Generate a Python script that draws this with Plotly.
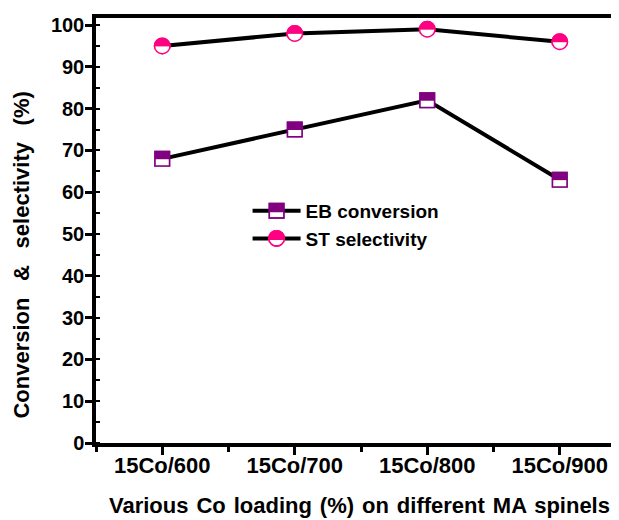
import plotly.graph_objects as go

categories = ["15Co/600", "15Co/700", "15Co/800", "15Co/900"]
eb_conversion = [68, 75, 82, 63]
st_selectivity = [95, 98, 99, 96]
y_ticks = [0, 10, 20, 30, 40, 50, 60, 70, 80, 90, 100]

x_pos = list(range(len(categories)))

PURPLE = "#800080"
PINK = "#FF0080"
FONT = "Liberation Sans, Arial, sans-serif"

SQ = 14.5   # square marker size
CI = 15.5   # circle marker size


def half_filled(fig, y, name, symbol, size, color):
    # full coloured marker on the black line (also the legend entry)
    fig.add_trace(go.Scatter(
        x=x_pos, y=y, mode="lines+markers", name=name,
        line=dict(color="black", width=4),
        marker=dict(symbol=symbol, size=size, color=color,
                    line=dict(color=color, width=1.5)),
        legend="legend",
    ))
    # lower half blanked in white
    fig.add_trace(go.Scatter(
        x=x_pos, y=y, mode="markers", name=name, showlegend=False,
        marker=dict(symbol="line-ew", size=size / 1.4, angle=0,
                    standoff=size / 4 + 0.4,
                    line=dict(color="white", width=size / 2)),
    ))
    # outline redrawn
    fig.add_trace(go.Scatter(
        x=x_pos, y=y, mode="markers", name=name, showlegend=False,
        marker=dict(symbol=symbol + "-open", size=size, color=color,
                    line=dict(width=1.5)),
    ))


def legend_overlay(fig, name, symbol, size, color):
    # legend-only copy of the white lower half
    fig.add_trace(go.Scatter(
        x=[None], y=[None], mode="markers", name=name,
        marker=dict(symbol="line-ew", size=size / 1.4, angle=180,
                    standoff=4, line=dict(color="white", width=5)),
        legend="legend2",
    ))


def legend_outline(fig, name, symbol, size, color):
    # legend-only copy of the outline
    fig.add_trace(go.Scatter(
        x=[None], y=[None], mode="markers", name=name,
        marker=dict(symbol=symbol + "-open", size=size, color=color,
                    line=dict(width=1.5)),
        legend="legend3",
    ))


fig = go.Figure()
half_filled(fig, eb_conversion, "EB conversion", "square", SQ, PURPLE)
half_filled(fig, st_selectivity, "ST selectivity", "circle", CI, PINK)
legend_overlay(fig, "EB conversion", "square", SQ, PURPLE)
legend_overlay(fig, "ST selectivity", "circle", CI, PINK)
legend_outline(fig, "EB conversion", "square", SQ, PURPLE)
legend_outline(fig, "ST selectivity", "circle", CI, PINK)

legend_common = dict(x=0.286, y=0.591, xanchor="left", yanchor="top",
                     bgcolor="rgba(0,0,0,0)", borderwidth=0, itemwidth=48,
                     traceorder="normal")

title_font = dict(family=FONT, size=22, color="black", weight="bold")
SP_X = " \u200a"
SP_Y = " \u00a0\u2009"

fig.update_layout(
    width=619, height=520,
    margin=dict(l=88, r=1, t=10, b=85),
    paper_bgcolor="white", plot_bgcolor="white",
    font=dict(family=FONT, color="black"),
    showlegend=True,
    legend=dict(**legend_common,
                font=dict(family=FONT, size=19, color="black", weight="bold")),
    legend2=dict(**legend_common,
                 font=dict(family=FONT, size=19, color="rgba(0,0,0,0)", weight="bold")),
    legend3=dict(**legend_common,
                 font=dict(family=FONT, size=19, color="rgba(0,0,0,0)", weight="bold")),
    xaxis=dict(
        range=[-0.5, 3.5], automargin=False,
        tickvals=x_pos, ticktext=categories,
        ticks="outside", ticklen=8, tickwidth=3, tickcolor="black",
        ticklabelstandoff=-8,
        showline=True, linewidth=3.5, linecolor="black", mirror=True,
        showgrid=False, zeroline=False,
        tickfont=dict(family=FONT, size=22, color="black", weight="bold"),
        minor=dict(tick0=0.5, dtick=1, ticks="outside", ticklen=5,
                   tickwidth=2.5, tickcolor="black", showgrid=False),
    ),
    yaxis=dict(
        range=[0, 101.7], automargin=False,
        tickvals=y_ticks,
        ticks="outside", ticklen=7, tickwidth=3, tickcolor="black",
        ticklabelstandoff=-3,
        showline=True, linewidth=3.5, linecolor="black", mirror=False,
        showgrid=False, zeroline=False,
        tickfont=dict(family=FONT, size=20, color="black", weight="bold"),
        minor=dict(dtick=5, ticks="inside", ticklen=4, tickwidth=2,
                   tickcolor="black", showgrid=False),
    ),
    annotations=[
        dict(text=SP_X.join("Various Co loading (%) on different MA spinels".split(" ")),
             xref="paper", yref="paper", x=0.4975, y=-0.146,
             xanchor="center", yanchor="middle", showarrow=False,
             font=title_font),
        dict(text=SP_Y.join("Conversion & selectivity (%)".split(" ")),
             xref="paper", yref="paper", x=-0.1396, y=0.441,
             xanchor="center", yanchor="middle", showarrow=False,
             textangle=-90, font=title_font),
    ],
)

fig.write_html("out.html")
